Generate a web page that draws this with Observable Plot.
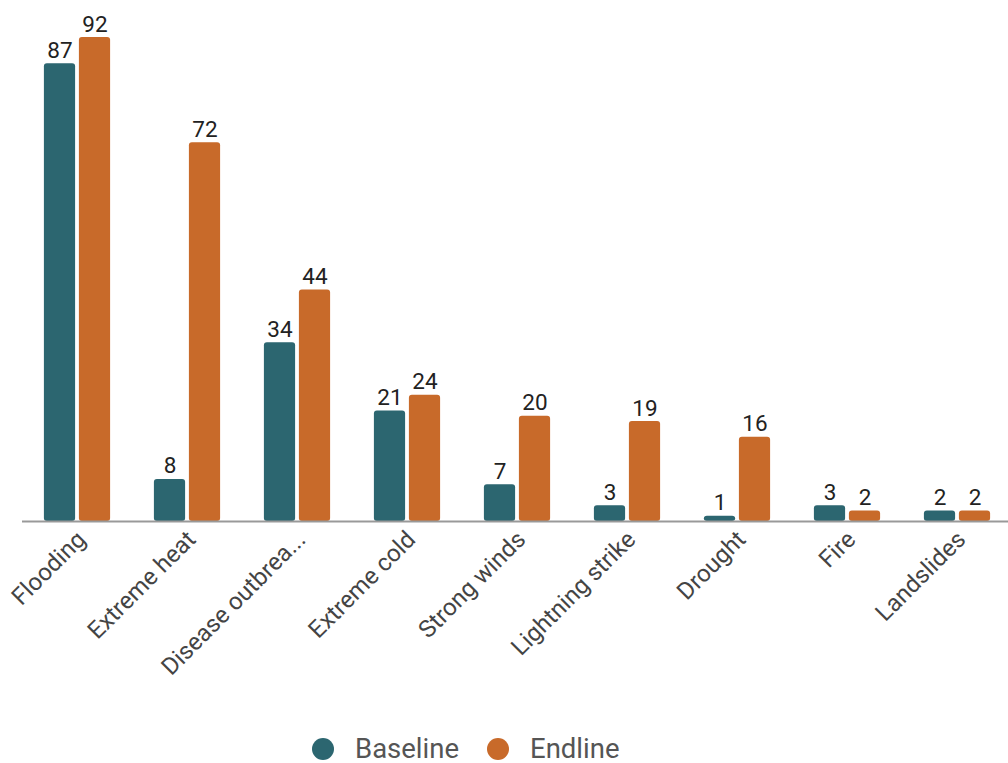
<!DOCTYPE html>
<html>
<head>
<meta charset="utf-8">
<script src="https://cdn.jsdelivr.net/npm/d3@7"></script>
<script src="https://cdn.jsdelivr.net/npm/@observablehq/plot@0.6"></script>
<style>
  html, body { margin: 0; padding: 0; background: #fff; }
  body { width: 1008px; height: 763px; overflow: hidden; font-family: Roboto, sans-serif; position: relative; }
  #legend { position: absolute; left: 312px; top: 735px; height: 28px; display: flex; align-items: center; font-size: 27.5px; color: #555; }
  .sw { width: 22px; height: 22px; border-radius: 50%; display: inline-block; margin-right: 21px; }
  .item { display: flex; align-items: center; margin-right: 28px; line-height: 28px; }
</style>
</head>
<body>
<div id="chart"></div>
<div id="legend"></div>
<script>
const categories = ["Flooding", "Extreme heat", "Disease outbreak", "Extreme cold", "Strong winds", "Lightning strike", "Drought", "Fire", "Landslides"];
const tickLabels = ["Flooding", "Extreme heat", "Disease outbrea...", "Extreme cold", "Strong winds", "Lightning strike", "Drought", "Fire", "Landslides"];
const baseline = [87, 8, 34, 21, 7, 3, 1, 3, 2];
const endline = [92, 72, 44, 24, 20, 19, 16, 2, 2];
const seriesNames = ["Baseline", "Endline"];
const colors = ["#2c6670", "#c86a2a"];

const baseData = categories.map((c, i) => ({category: c, value: baseline[i]}));
const endData = categories.map((c, i) => ({category: c, value: endline[i]}));

const fmtLabel = d => tickLabels[categories.indexOf(d)];

const plot = Plot.plot({
  width: 1008,
  height: 700,
  marginTop: 37,
  marginBottom: 179,
  marginLeft: 22,
  marginRight: 0,
  style: {fontFamily: "Roboto, sans-serif", background: "#fff"},
  x: {domain: categories, range: [21.1, 1013.4], padding: 0, label: null},
  y: {domain: [0, 92], axis: null},
  marks: [
    Plot.barY(baseData, {x: "category", y: "value", fill: colors[0], insetLeft: 21.9, insetRight: 56.9, rx: 3}),
    Plot.barY(endData, {x: "category", y: "value", fill: colors[1], insetLeft: 56.9, insetRight: 21.9, rx: 3}),
    Plot.ruleY([0], {stroke: "#fff", strokeWidth: 5, dy: 3.5}),
    Plot.ruleY([0], {stroke: "#999", strokeWidth: 2}),
    Plot.text(baseData, {x: "category", y: "value", text: d => String(d.value), dx: -17.5, dy: -6, lineAnchor: "bottom", fontSize: 22.5, fill: "#222"}),
    Plot.text(endData, {x: "category", y: "value", text: d => String(d.value), dx: 17.5, dy: -6, lineAnchor: "bottom", fontSize: 22.5, fill: "#222"}),
    Plot.axisX({tickSize: 0, tickRotate: -45, tickPadding: 14, fontSize: 24, fill: "#444", tickFormat: fmtLabel, label: null, dx: 4})
  ]
});
document.getElementById("chart").appendChild(plot);

const legend = document.getElementById("legend");
seriesNames.forEach((name, i) => {
  const item = document.createElement("div");
  item.className = "item";
  const sw = document.createElement("span");
  sw.className = "sw";
  sw.style.background = colors[i];
  item.appendChild(sw);
  item.appendChild(document.createTextNode(name));
  legend.appendChild(item);
});
</script>
</body>
</html>
